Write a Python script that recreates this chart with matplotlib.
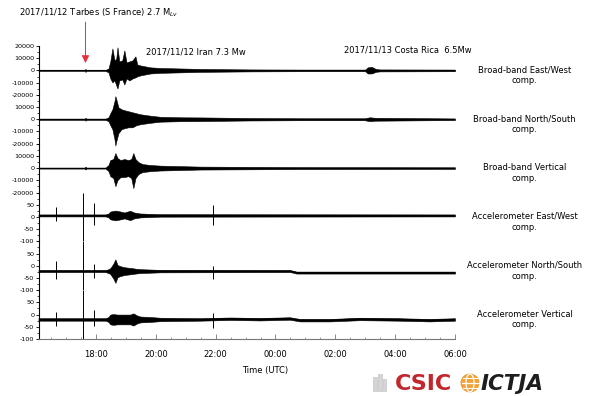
import matplotlib
matplotlib.use("Agg")
import matplotlib.pyplot as plt
from matplotlib.patches import Circle, Ellipse, Rectangle
from matplotlib.ticker import MultipleLocator

plt.rcParams['font.family'] = ['DejaVu Sans']
plt.rcParams['axes.unicode_minus'] = False

# Time axis: decimal hours UTC counted from 2017/11/12 00:00
t_start, t_end = 16.08, 30.0
hour_ticks = [18, 20, 22, 24, 26, 28, 30]
hour_labels = ["18:00", "20:00", "22:00", "00:00", "02:00", "04:00", "06:00"]

component_labels = [
    "Broad-band East/West\ncomp.",
    "Broad-band North/South\ncomp.",
    "Broad-band Vertical\ncomp.",
    "Accelerometer East/West\ncomp.",
    "Accelerometer North/South\ncomp.",
    "Accelerometer Vertical\ncomp.",
]

# Event annotations
tarbes_t = 17.65
tarbes_label = "2017/11/12 Tarbes (S France) 2.7 M$_{Lv}$"
iran_label = "2017/11/12 Iran 7.3 Mw"
costa_rica_label = "2017/11/13 Costa Rica  6.5Mw"

# Broad-band East/West envelope (counts)
bb_ew_t = [16.08, 17.62, 17.65, 17.68, 18.32, 18.42, 18.48, 18.55, 18.62, 18.68,
           18.72, 18.78, 18.88, 18.95, 19.02, 19.12, 19.22, 19.32, 19.38, 19.48,
           19.65, 19.82, 20.15, 20.82, 21.48, 23.15, 24.82, 27.00, 27.08, 27.22,
           27.35, 27.48, 30.00]
bb_ew_hi = [400, 400, 1200, 400, 400, 1600, 7400, 18000, 8200, 9800,
            18900, 7400, 8200, 16400, 6600, 7400, 8200, 11500, 4900, 4100,
            3300, 2500, 2000, 1600, 1200, 800, 650, 650, 2500, 2900,
            1200, 800, 650]
bb_ew_lo = [-400, -400, -1200, -400, -400, -1600, -6600, -9800, -8200, -12300,
            -14800, -8200, -7400, -11500, -6600, -8200, -6600, -5700, -4900, -4100,
            -3300, -2500, -2000, -1600, -1200, -800, -650, -650, -2500, -2500,
            -1200, -800, -650]

# Broad-band North/South envelope (counts)
bb_ns_t = [16.08, 17.62, 17.65, 17.68, 18.32, 18.42, 18.48, 18.55, 18.62, 18.65,
           18.68, 18.75, 18.85, 18.95, 19.08, 19.22, 19.35, 19.48, 19.82, 20.15,
           20.82, 21.48, 23.15, 24.82, 26.98, 27.15, 27.32, 30.00]
bb_ns_hi = [500, 500, 1200, 500, 500, 1600, 4900, 8200, 14800, 18900,
            16400, 9800, 8200, 7400, 6600, 5700, 4900, 4100, 2900, 2000,
            1600, 1500, 1000, 800, 800, 1600, 1200, 650]
bb_ns_lo = [-500, -500, -1200, -500, -500, -1600, -4900, -8200, -16400, -21500,
            -18000, -11500, -8200, -7400, -6600, -6600, -4900, -4100, -2900, -2000,
            -1600, -1500, -1000, -800, -800, -1600, -1200, -650]

# Broad-band Vertical envelope (counts)
bb_z_t = [16.08, 17.62, 17.65, 17.68, 18.32, 18.42, 18.48, 18.58, 18.65, 18.72,
          18.82, 18.95, 19.08, 19.18, 19.25, 19.32, 19.42, 19.55, 19.82, 20.15,
          20.82, 21.48, 23.15, 24.82, 30.00]
bb_z_hi = [400, 400, 1200, 400, 400, 2500, 6600, 7400, 12300, 8200,
           6600, 7400, 6600, 7400, 12300, 7400, 4900, 3300, 2500, 2000,
           1600, 1200, 1000, 800, 650]
bb_z_lo = [-400, -400, -1200, -400, -400, -2500, -6600, -8200, -14800, -9800,
           -7400, -7400, -6600, -8200, -16400, -8200, -4900, -3300, -2500, -2000,
           -1600, -1200, -1000, -800, -650]

# Accelerometer traces: baseline and half-width of the trace band (counts)
acc_ew_t = [16.08, 18.32, 18.42, 18.48, 18.65, 18.82, 18.95, 19.05, 19.15, 19.28,
            19.48, 20.15, 30.00]
acc_ew_base = [6, 6, 6, 6, 6, 6, 6, 6, 6, 6, 6, 6, 6]
acc_ew_amp = [4, 4, 8, 16, 20, 16, 12, 16, 19, 12, 8, 5, 4]

acc_ns_t = [16.08, 18.32, 18.42, 18.48, 18.58, 18.65, 18.72, 18.82, 18.95, 19.08,
            19.22, 19.32, 19.48, 20.15, 24.50, 24.70, 30.00]
acc_ns_base = [-22, -22, -22, -22, -22, -22, -22, -22, -22, -22,
               -22, -22, -22, -22, -22, -28, -28]
acc_ns_amp = [4, 4, 8, 12, 30, 48, 25, 20, 16, 14,
              12, 10, 8, 5, 4, 4, 4]

acc_z_t = [16.08, 18.32, 18.42, 18.48, 18.58, 18.72, 18.88, 19.02, 19.15, 19.25,
           19.38, 19.48, 19.82, 20.15, 21.48, 22.48, 23.48, 24.48, 24.82, 25.82,
           26.82, 28.15, 29.15, 30.00]
acc_z_base = [-20, -20, -20, -20, -20, -20, -20, -20, -20, -20,
              -20, -20, -20, -20, -20, -17, -19, -16, -23, -23,
              -18, -20, -23, -20]
acc_z_amp = [5, 5, 10, 20, 22, 20, 20, 20, 20, 25,
             16, 12, 10, 7, 5, 5, 5, 5, 5, 5,
             5, 5, 5, 5]

# Transient spikes on the accelerometers: times and (top, bottom) counts
acc_spike_t = [16.65, 17.58, 17.95, 21.92]
acc_ew_spikes = [(39, -15), (100, -100), (55, -35), (47, -35)]
acc_ns_spikes = [(20, -54), (100, -100), (8, -50), (0, -54)]
acc_z_spikes = [(9, -45), (100, -100), (17, -45), (5, -53)]

bb_ticks_first = [-20000, -10000, 0, 10000, 20000]
bb_ticks = [-20000, -10000, 0, 10000]
acc_ticks = [-100, -50, 0, 50]

traces = [
    ("bb", bb_ew_t, bb_ew_hi, bb_ew_lo, None, bb_ticks_first),
    ("bb", bb_ns_t, bb_ns_hi, bb_ns_lo, None, bb_ticks),
    ("bb", bb_z_t, bb_z_hi, bb_z_lo, None, bb_ticks),
    ("acc", acc_ew_t, acc_ew_base, acc_ew_amp, acc_ew_spikes, acc_ticks),
    ("acc", acc_ns_t, acc_ns_base, acc_ns_amp, acc_ns_spikes, acc_ticks),
    ("acc", acc_z_t, acc_z_base, acc_z_amp, acc_z_spikes, acc_ticks),
]

W, H = 594, 396
fig = plt.figure(figsize=(W / 100, H / 100), dpi=100)
fig.patch.set_facecolor("white")

left_px, right_px = 38.5, 455.0
top_px, bottom_px = 46.0, 339.0
panel_h = (bottom_px - top_px) / 6

axes = []
for i, (kind, t, a, b, spikes, ticks) in enumerate(traces):
    y0 = 1 - (top_px + (i + 1) * panel_h) / H
    ax = fig.add_axes([left_px / W, y0, (right_px - left_px) / W, panel_h / H])
    axes.append(ax)
    if kind == "bb":
        ax.set_ylim(-20000, 20000)
        hi, lo = a, b
        base = [0.0] * len(t)
        minor = 5000
    else:
        ax.set_ylim(-100, 100)
        hi = [m + s for m, s in zip(a, b)]
        lo = [m - s for m, s in zip(a, b)]
        base = a
        minor = 25
    ax.fill_between(t, lo, hi, color="black", linewidth=0.4, clip_on=False)
    ax.plot(t, base, color="black", linewidth=0.9 if kind == "acc" else 0.8)
    if spikes is not None:
        ax.vlines(acc_spike_t, [s[1] for s in spikes], [s[0] for s in spikes],
                  color="black", linewidth=0.7)
    ax.set_xlim(t_start, t_end)
    ax.set_yticks(ticks)
    ax.yaxis.set_minor_locator(MultipleLocator(minor))
    ax.tick_params(axis="y", which="major", labelsize=4.6, length=2.2, width=0.6, pad=0.8)
    ax.tick_params(axis="y", which="minor", length=1.2, width=0.5)
    for side in ("top", "right", "bottom"):
        ax.spines[side].set_visible(False)
    ax.spines["left"].set_linewidth(0.8)
    ax.patch.set_alpha(0)
    ax.text(1.167, 0.40, component_labels[i], transform=ax.transAxes,
            ha="center", va="center", fontsize=6, linespacing=1.25)
    if i < 5:
        ax.tick_params(axis="x", which="both", bottom=False, labelbottom=False)

axb = axes[-1]
axb.spines["bottom"].set_visible(True)
axb.spines["bottom"].set_color("#777777")
axb.spines["bottom"].set_linewidth(0.8)
axb.set_xticks(hour_ticks)
axb.set_xticklabels(hour_labels)
axb.xaxis.set_minor_locator(MultipleLocator(0.5))
axb.tick_params(axis="x", which="major", direction="in", length=3.5, width=0.6,
                colors="#777777", labelcolor="black", labelsize=6, pad=8)
axb.tick_params(axis="x", which="minor", direction="in", length=1.8, width=0.5,
                colors="#777777")

fig.text(265.5 / W, 1 - 370 / H, "Time (UTC)", ha="center", va="center", fontsize=6)

# Event labels and the arrow marking the local event
fig.text(99 / W, 1 - 13 / H, tarbes_label, ha="center", va="center", fontsize=6)
fig.text(195.5 / W, 1 - 52 / H, iran_label, ha="center", va="center", fontsize=6)
fig.text(407.5 / W, 1 - 50 / H, costa_rica_label, ha="center", va="center", fontsize=6)
axes[0].annotate("", xy=(tarbes_t, 6000), xytext=(tarbes_t, 39500),
                 xycoords="data", textcoords="data", annotation_clip=False,
                 arrowprops=dict(arrowstyle="-|>,head_length=0.45,head_width=0.22",
                                 color="#e2323c", lw=0.7, shrinkA=0, shrinkB=0))

# Institutional logos
lg = fig.add_axes([365 / W, 0, 195 / W, 28 / H])
lg.set_xlim(365, 560)
lg.set_ylim(396, 368)
lg.axis("off")
for (x, y, w, h) in [(373, 377, 4, 14), (378, 374, 4, 17), (383, 379, 3, 12)]:
    lg.add_patch(Rectangle((x, y), w, h, facecolor="#d5d5d5", edgecolor="#bbbbbb", lw=0.4))
lg.text(423.5, 383.5, "CSIC", ha="center", va="center", fontsize=16,
        fontweight="bold", color="#c1272d")
lg.add_patch(Circle((470, 383), 9, facecolor="#f2a33c", edgecolor="#e8962c", lw=0.6))
lg.add_patch(Ellipse((470, 383), 8, 18, facecolor="none", edgecolor="white", lw=0.9))
lg.plot([461.5, 478.5], [383, 383], color="white", lw=0.9)
lg.plot([463, 477], [378, 378], color="white", lw=0.7)
lg.plot([463, 477], [388, 388], color="white", lw=0.7)
lg.text(481, 384, "ICTJA", ha="left", va="center", fontsize=15.5,
        fontweight="bold", fontstyle="italic", color="#1e1e1e")

fig.savefig("out.png", dpi=100)
